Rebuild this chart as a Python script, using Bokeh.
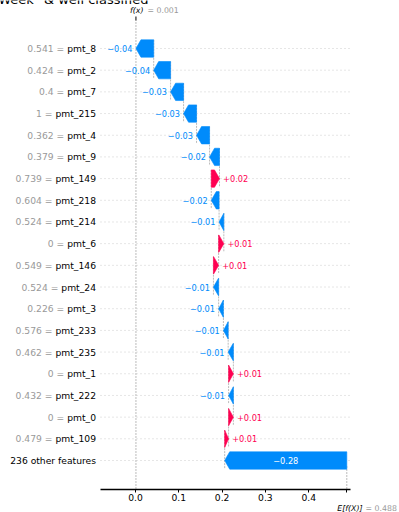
import numpy as np
from bokeh.plotting import figure
from bokeh.models import Range1d, FixedTicker, Label, PrintfTickFormatter
from bokeh.core.properties import value
from bokeh.embed import file_html
from bokeh.resources import INLINE

# ---------------- data ----------------
title_text = '"Week" & well classified'
feature_names = ["pmt_8", "pmt_2", "pmt_7", "pmt_215", "pmt_4", "pmt_9", "pmt_149",
                 "pmt_218", "pmt_214", "pmt_6", "pmt_146", "pmt_24", "pmt_3",
                 "pmt_233", "pmt_235", "pmt_1", "pmt_222", "pmt_0", "pmt_109"]
feature_values = ["0.541", "0.424", "0.4", "1", "0.362", "0.379", "0.739",
                  "0.604", "0.524", "0", "0.549", "0.524", "0.226",
                  "0.576", "0.462", "0", "0.432", "0", "0.479"]
shap_values = [-0.041, -0.039, -0.030, -0.030, -0.030, -0.023, 0.019,
               -0.018, -0.011, 0.012, 0.012, -0.012, -0.011,
               -0.011, -0.012, 0.011, -0.011, 0.011, 0.009]
other_name = "236 other features"
other_shap = -0.282
base_value = 0.488
fx_value = 0.001
x_ticks = [0.0, 0.1, 0.2, 0.3, 0.4]

# ---------------- style / layout ----------------
BLUE = "#008bfb"
RED = "#ff0051"
FONT = "DejaVu Sans"
W, H = 399, 512
X0, X1 = -0.3118, 0.6097
PX = W / (X1 - X0)                  # pixels per data unit
RPX = 21.684                        # pixels per row
Y_TOP = 2.2136
Y_BOT = Y_TOP - H / RPX


def yd(c):
    return Y_TOP - c / RPX


def xd(c):
    return X0 + c / PX


AXIS_Y = yd(488.5)
AX_L, AX_R = xd(100), xd(350)
XLAB = xd(95.5)
HALF = 0.4
HEAD = 5.0 / PX

# DejaVu Sans advance widths (units / 2048)
ADV = {"0": 1303, "1": 1303, "2": 1303, "3": 1303, "4": 1303, "5": 1303, "6": 1303,
       "7": 1303, "8": 1303, "9": 1303, ".": 651, " ": 651, "=": 1716, "p": 1300,
       "m": 1995, "t": 803, "_": 1024, "o": 1253, "h": 1298, "e": 1260, "r": 842,
       "f": 721, "a": 1255, "u": 1298, "s": 1067}
LAB_FS = 9.2


def tw(s, fs):
    return sum(ADV.get(ch, 1250) for ch in s) / 2048.0 * fs


names = feature_names + [other_name]
fvals = feature_values + [""]
vals = shap_values + [other_shap]
n = len(names)

ends, starts = [], []
cur = fx_value
for v in vals:
    ends.append(cur)
    starts.append(cur - v)
    cur = cur - v

p = figure(width=W, height=H, x_range=Range1d(X0, X1), y_range=Range1d(Y_BOT, Y_TOP),
           output_backend="svg", toolbar_location=None, y_axis_location=None,
           min_border_left=0, min_border_right=0, min_border_top=0,
           min_border_bottom=0)
p.outline_line_color = None
p.xgrid.visible = False
p.ygrid.visible = False
p.background_fill_color = "white"
p.border_fill_color = "white"

rows_y = [-i for i in range(n)]

# row dotted lines
p.segment(x0=[AX_L] * n, x1=[AX_R] * n, y0=rows_y, y1=rows_y,
          line_color="#cccccc", line_width=1, line_dash="1 3")

# f(x) vertical line & base line
ax_top = yd(20)
p.segment(x0=[fx_value], x1=[fx_value], y0=[AXIS_Y], y1=[ax_top],
          line_color="#bbbbbb", line_width=1, line_dash="2 1")
p.segment(x0=[base_value], x1=[base_value], y0=[AXIS_Y],
          y1=[AXIS_Y + (ax_top - AXIS_Y) / n],
          line_color="#bbbbbb", line_width=1, line_dash="2 1")
p.segment(x0=[fx_value], x1=[fx_value], y0=[yd(16)], y1=[ax_top],
          line_color="black", line_width=1)

# connectors
cx, cy0, cy1 = [], [], []
for i in range(n - 1):
    cx.append(starts[i])
    cy0.append(-i + HALF)
    cy1.append(-i - 1 - HALF)
p.segment(x0=cx, x1=cx, y0=cy0, y1=cy1, line_color="#bbbbbb", line_width=1,
          line_dash="2 1")

# arrows
xs, ys, cols = [], [], []
for i, (s, e, v) in enumerate(zip(starts, ends, vals)):
    y = -i
    d = 1 if v >= 0 else -1
    hl = min(abs(e - s), HEAD)
    b = e - d * hl
    xs.append([s, b, e, b, s])
    ys.append([y + HALF, y + HALF, y, y - HALF, y - HALF])
    cols.append(RED if v >= 0 else BLUE)
p.patches(xs=xs, ys=ys, fill_color=cols, line_color=cols, line_width=0.6)


# value labels
def fmt(v):
    return ("%+0.02f" % v).replace("-", "\u2212")


lx, ly, lt, lc, la, lo = [], [], [], [], [], []
ix, iy, it = [], [], []
for i, (s, e, v) in enumerate(zip(starts, ends, vals)):
    if abs(v) * PX > 40:
        ix.append((s + e) / 2)
        iy.append(-i)
        it.append(fmt(v))
        continue
    lx.append(e)
    ly.append(-i)
    lt.append(fmt(v))
    if v >= 0:
        lc.append(RED); la.append("left"); lo.append(3.6)
    else:
        lc.append(BLUE); la.append("right"); lo.append(-3.6)
p.text(x=lx, y=ly, text=lt, text_color=lc, text_align=la, x_offset=lo,
       text_baseline="middle", text_font=value(FONT), text_font_size="8.2px")
p.text(x=ix, y=iy, text=it, text_color="white", text_align="center",
       text_baseline="middle", text_font=value(FONT), text_font_size="8.2px")

# y labels
p.text(x=[XLAB] * n, y=rows_y, text=names, text_color="black", text_align="right",
       text_baseline="middle", text_font=value(FONT), text_font_size="%.1fpx" % LAB_FS)
gx, gy, gt, go = [], [], [], []
for i, (nm, fv) in enumerate(zip(names, fvals)):
    if fv == "":
        continue
    gx.append(XLAB)
    gy.append(-i)
    gt.append(fv + " =")
    go.append(-tw(" " + nm, LAB_FS))
p.text(x=gx, y=gy, text=gt, text_color="#999999", text_align="right", x_offset=go,
       text_baseline="middle", text_font=value(FONT), text_font_size="%.1fpx" % LAB_FS)

# x axis (drawn at a fixed location inside the frame)
ax = p.xaxis[0]
ax.fixed_location = AXIS_Y
ax.ticker = FixedTicker(ticks=x_ticks + [base_value])
ax.formatter = PrintfTickFormatter(format="%.1f")
ax.major_label_overrides = {base_value: ""}
ax.bounds = (AX_L, AX_R)
ax.axis_line_width = 1.6
ax.axis_line_color = "black"
ax.major_tick_out = 3
ax.major_tick_in = 0
ax.minor_tick_out = 0
ax.minor_tick_in = 0
ax.major_tick_line_color = "black"
ax.major_label_standoff = 2
ax.major_label_text_font = FONT
ax.major_label_text_font_size = "9.2px"
ax.major_label_text_color = "black"

# f(x) / E[f(X)] labels
p.add_layout(Label(x=fx_value, y=yd(9.5), text="f(x)", text_align="right",
                   x_offset=7.5, text_baseline="middle", text_font=FONT,
                   text_font_style="italic", text_font_size="7.8px", text_color="black"))
p.add_layout(Label(x=fx_value, y=yd(9.5), text="= %.3f" % fx_value, text_align="left",
                   x_offset=11.5, text_baseline="middle", text_font=FONT,
                   text_font_size="7.8px", text_color="#999999"))
p.add_layout(Label(x=base_value, y=yd(508), text="E[f(X)]", text_align="right",
                   x_offset=15.7, text_baseline="middle", text_font=FONT,
                   text_font_style="italic", text_font_size="7.8px", text_color="black"))
p.add_layout(Label(x=base_value, y=yd(508), text="= %.3f" % base_value, text_align="left",
                   x_offset=18.7, text_baseline="middle", text_font=FONT,
                   text_font_size="7.8px", text_color="#999999"))

# title (partly outside the top of the page, as in the reference)
p.add_layout(Label(x=xd(148), y=yd(-1.0), text=title_text, text_align="right",
                   text_baseline="alphabetic", text_font=FONT,
                   text_font_size="13px", text_color="black"))

open("out.html", "w").write(file_html(p, INLINE))
